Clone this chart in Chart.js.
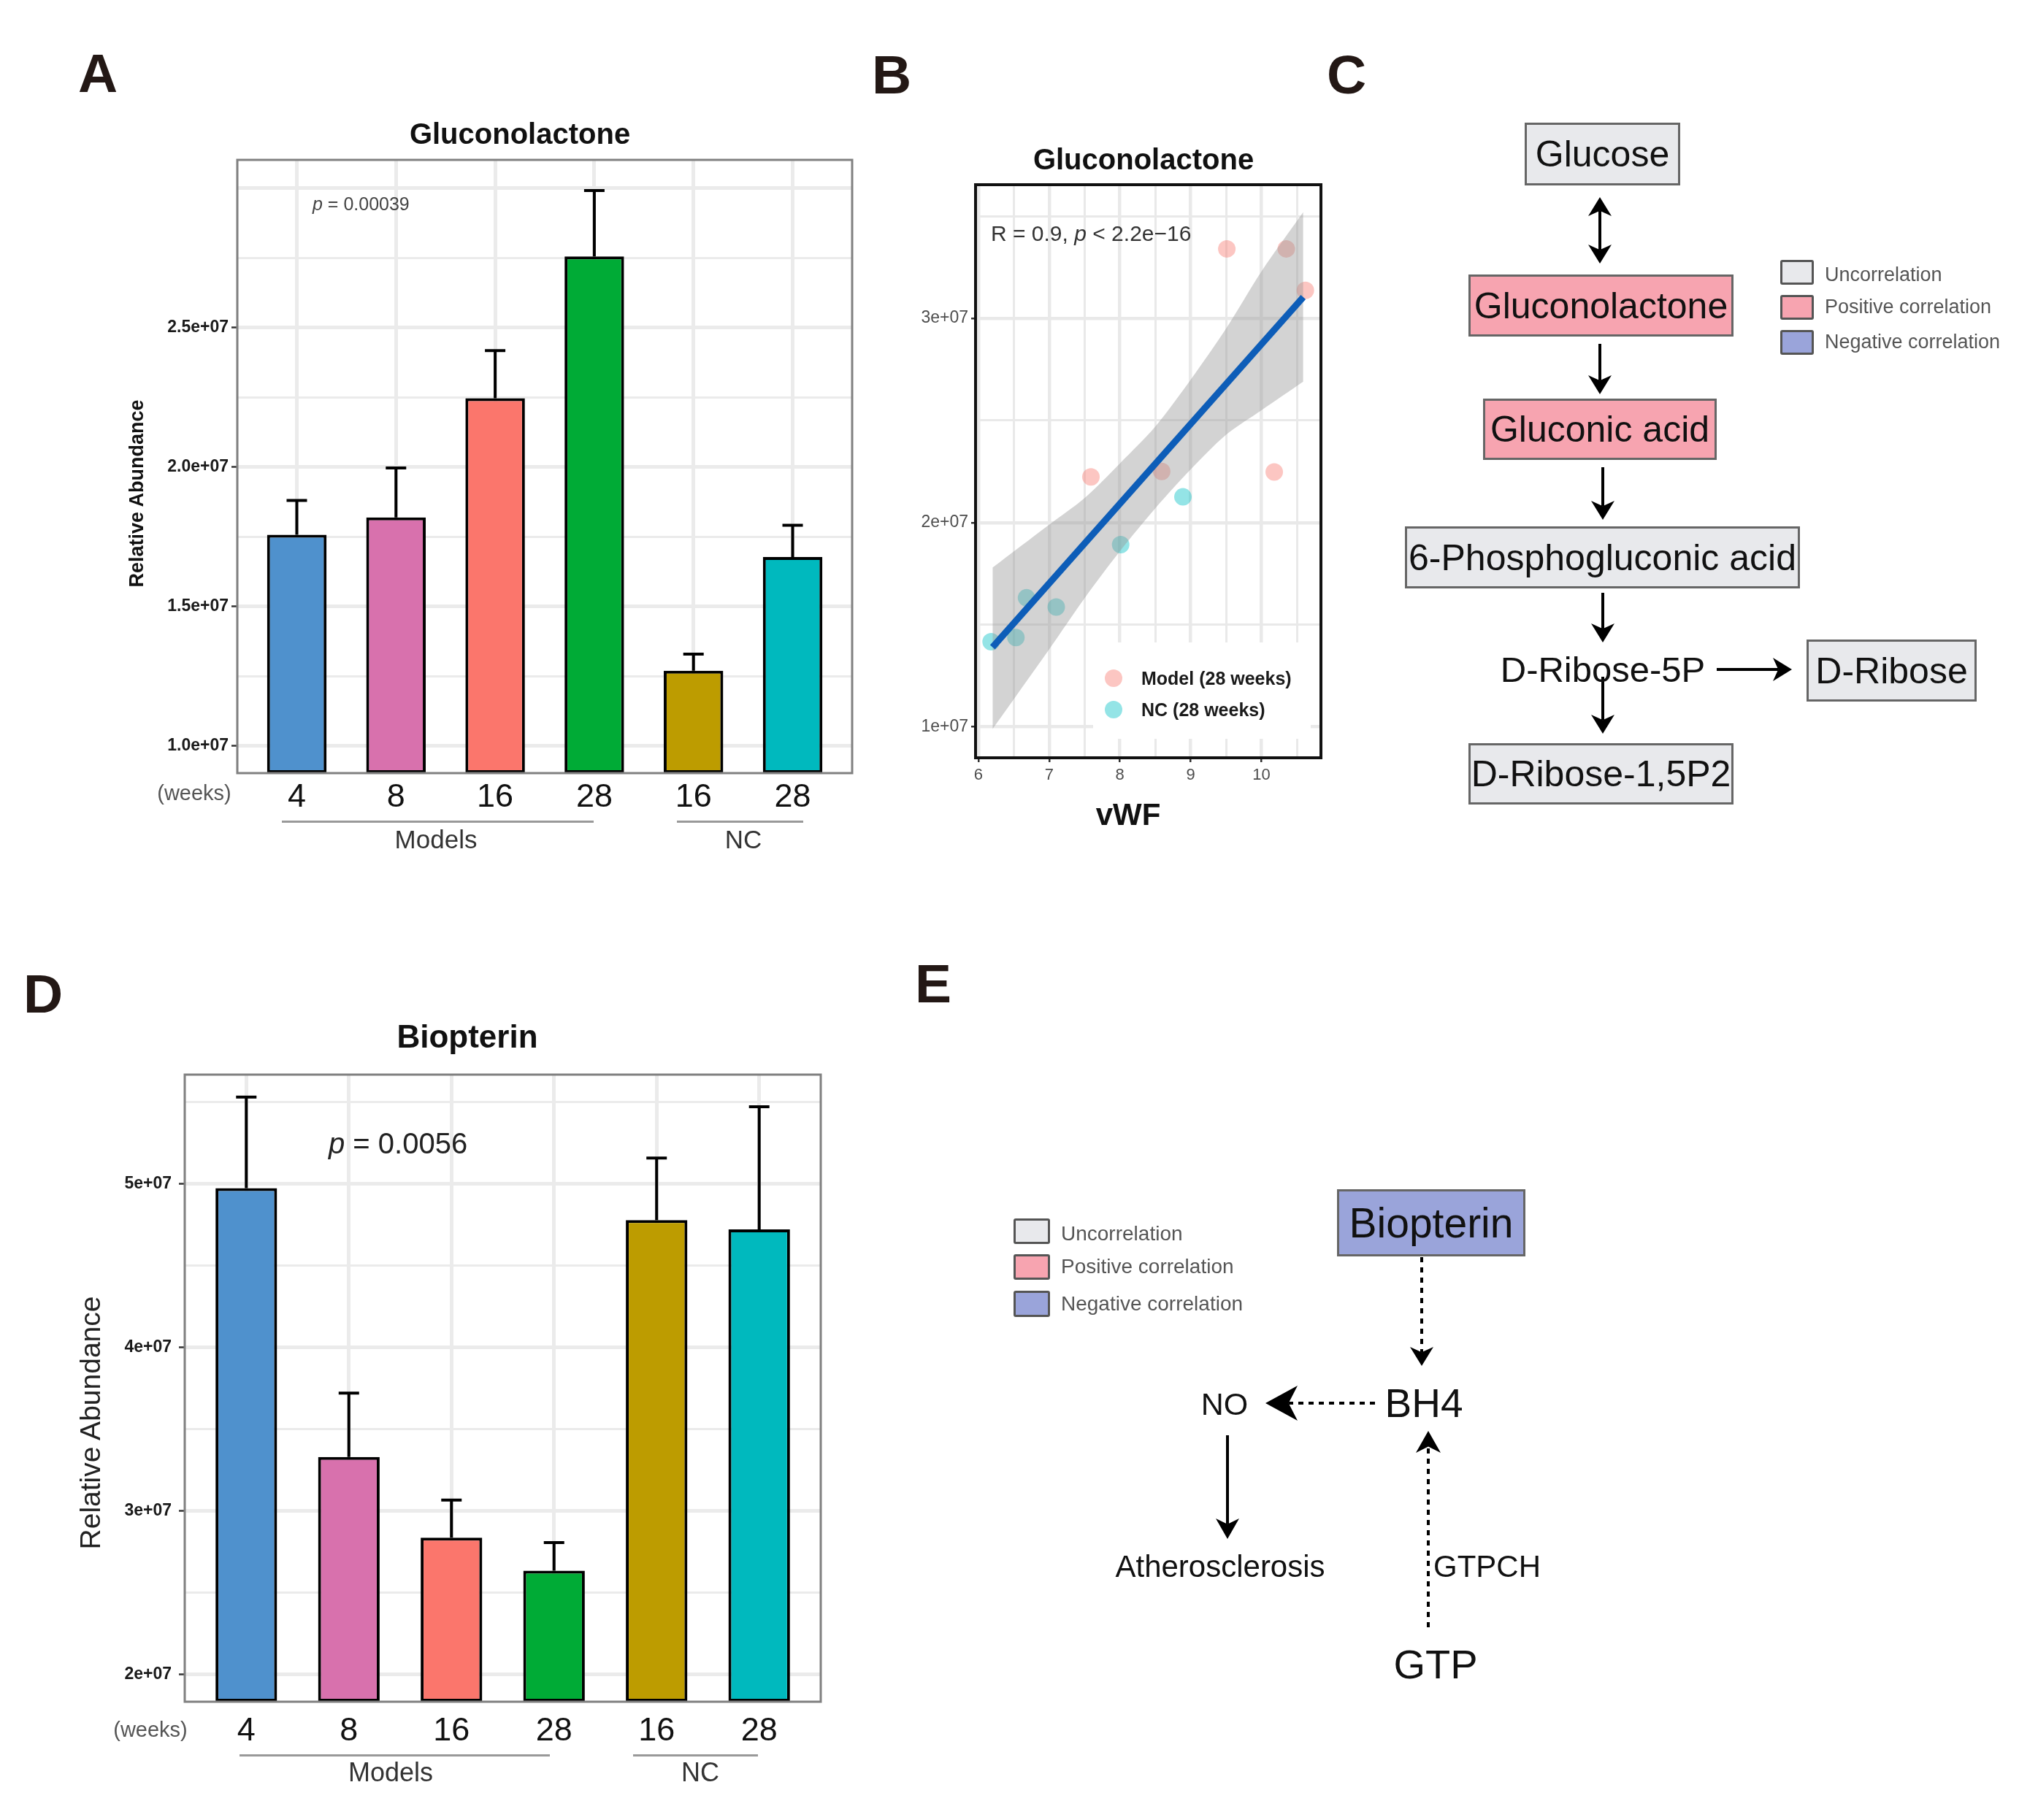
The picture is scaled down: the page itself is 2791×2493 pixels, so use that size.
<!DOCTYPE html>
<html>
<head>
<meta charset="utf-8">
<script src="https://cdn.jsdelivr.net/npm/chart.js@4.4.1/dist/chart.umd.min.js"></script>
<style>
  html, body { margin: 0; padding: 0; background: #fff; }
  body { width: 2791px; height: 2493px; position: relative; overflow: hidden;
         font-family: "Liberation Sans", Arial, Helvetica, sans-serif; color: #111; }
  canvas { position: absolute; }
  .txt { position: absolute; white-space: nowrap; line-height: 1; }
  .box { position: absolute; box-sizing: border-box; border: 3px solid #666; display: flex;
         align-items: center; justify-content: center; white-space: nowrap; font-size: 50px; line-height: 1; }
  .key { position: absolute; box-sizing: border-box; border: 3px solid #555; border-radius: 3px; }
  .rule { position: absolute; height: 0; border-top: 3px solid #999; }
  .legendB { position: absolute; background: #fff; }
  .dot { position: absolute; width: 24px; height: 24px; border-radius: 50%; }
  svg { position: absolute; left: 0; top: 0; }
</style>
</head>
<body>
<canvas id="chartA" width="961" height="920" style="left:214px;top:209px"></canvas>
<canvas id="chartB" width="585" height="847" style="left:1236px;top:241px"></canvas>
<canvas id="chartD" width="990" height="939" style="left:142px;top:1462px"></canvas>
<div class="legendB" style="left:1497px;top:880px;width:298px;height:132px"></div>
<svg id="arrows" width="2791" height="2493"></svg>

<script>
// Gluconolactone / Biopterin figure: bar charts (A, D), vWF scatter (B), pathway sketches (C, E)

// ---- data ----
const weekLabels = ['4', '8', '16', '28', '16', '28'];
const catPos = [1, 2, 3, 4, 5, 6];

const glucMean = [1.758e7, 1.820e7, 2.247e7, 2.756e7, 1.270e7, 1.678e7];
const glucErrTop = [1.881e7, 1.997e7, 2.418e7, 2.992e7, 1.330e7, 1.792e7];
const glucGrid = [1.0e7, 1.25e7, 1.5e7, 1.75e7, 2.0e7, 2.25e7, 2.5e7, 2.75e7, 3.0e7];
const glucMajor = [1.0e7, 1.5e7, 2.0e7, 2.5e7, 3.0e7];
const glucLabels = [1.0e7, 1.5e7, 2.0e7, 2.5e7];

const biopMean = [4.974e7, 3.33e7, 2.836e7, 2.634e7, 4.779e7, 4.722e7];
const biopErrTop = [5.532e7, 3.72e7, 3.066e7, 2.806e7, 5.159e7, 5.472e7];
const biopGrid = [2.0e7, 2.5e7, 3.0e7, 3.5e7, 4.0e7, 4.5e7, 5.0e7, 5.5e7];
const biopLabels = [2.0e7, 3.0e7, 4.0e7, 5.0e7];

const modelVWF = [9.51, 10.35, 10.62, 7.59, 8.59, 10.18];
const modelGluc = [3.34e7, 3.34e7, 3.137e7, 2.224e7, 2.251e7, 2.248e7];
const ncVWF = [8.89, 8.01, 6.68, 7.10, 6.53, 6.18];
const ncGluc = [2.126e7, 1.892e7, 1.632e7, 1.587e7, 1.438e7, 1.417e7];
const fitVWF = [6.2, 10.59];
const fitGluc = [1.39e7, 3.104e7];
const bandVWF = [6.2, 7.0, 7.5, 8.0, 8.5, 9.0, 9.5, 10.0, 10.59];
const bandLow = [0.99e7, 1.38e7, 1.63e7, 1.86e7, 2.07e7, 2.26e7, 2.43e7, 2.55e7, 2.69e7];
const bandHigh = [1.78e7, 1.99e7, 2.12e7, 2.29e7, 2.47e7, 2.70e7, 2.95e7, 3.23e7, 3.52e7];
const vwfGrid = [6, 6.5, 7, 7.5, 8, 8.5, 9, 9.5, 10, 10.5];
const vwfTicks = [6, 7, 8, 9, 10];
const scatGrid = [1.0e7, 1.5e7, 2.0e7, 2.5e7, 3.0e7, 3.5e7];
const scatTicks = [1.0e7, 2.0e7, 3.0e7];

const barColors = ['#4f91cd', '#d871ad', '#fb766c', '#00ab36', '#bd9c00', '#00b9be'];

const FONT = '"Liberation Sans", Arial, Helvetica, sans-serif';
Chart.defaults.font.family = FONT;

function near(a, b) { return Math.abs(a - b) <= Math.abs(b) * 1e-9 + 1e-9; }
function isIn(v, list) { return list.some(t => near(v, t)); }
function tickVal(ctx) { return ctx.tick ? ctx.tick.value : NaN; }
function pts(xs, ys) { return xs.map((x, i) => ({ x, y: ys[i] })); }
// fixed axis sizes, no automatic label padding, so the plot area lands where the panel is
function fixW(w) { return s => { s.width = w; s.paddingTop = 0; s.paddingBottom = 0; }; }
function fixH(h) { return s => { s.height = h; s.paddingLeft = 0; s.paddingRight = 0; }; }

function errorBars(means, tops) {
  return {
    id: 'errorBars',
    afterDatasetsDraw(chart) {
      const { ctx, scales: { x, y } } = chart;
      ctx.save();
      ctx.strokeStyle = '#000';
      ctx.lineWidth = 4;
      tops.forEach((t, i) => {
        const px = x.getPixelForValue(catPos[i]);
        const y0 = y.getPixelForValue(means[i]);
        const y1 = y.getPixelForValue(t);
        ctx.beginPath();
        ctx.moveTo(px, y0); ctx.lineTo(px, y1);
        ctx.moveTo(px - 14, y1); ctx.lineTo(px + 14, y1);
        ctx.stroke();
      });
      ctx.restore();
    }
  };
}

function panelBorder(color, width) {
  return {
    id: 'panelBorder',
    afterDraw(chart) {
      const { ctx, chartArea: a } = chart;
      ctx.save();
      ctx.strokeStyle = color;
      ctx.lineWidth = width;
      ctx.strokeRect(a.left, a.top, a.right - a.left, a.bottom - a.top);
      ctx.restore();
    }
  };
}

function makeBars(id, means, tops, c) {
  return new Chart(document.getElementById(id), {
    type: 'bar',
    data: {
      datasets: [{
        data: pts(catPos, means),
        backgroundColor: barColors,
        borderColor: '#000',
        borderWidth: 4,
        borderSkipped: false,
        categoryPercentage: 1,
        barPercentage: 0.6,
        base: c.yMin,
        clip: 3
      }]
    },
    options: {
      responsive: false, animation: false, devicePixelRatio: 1, events: [],
      layout: { padding: { top: 10, right: 8, left: 0, bottom: 0 } },
      plugins: { legend: { display: false }, tooltip: { enabled: false } },
      scales: {
        x: {
          type: 'linear', min: 0.4, max: 6.6, offset: false,
          afterBuildTicks: s => { s.ticks = catPos.map(v => ({ value: v })); },
          afterFit: fixH(c.xAxisH),
          ticks: { autoSkip: false, maxRotation: 0, padding: c.xPad, color: '#111', font: { size: 45 },
                   callback: v => weekLabels[v - 1] },
          grid: { offset: false, drawTicks: false, color: '#ebebeb', lineWidth: 5 },
          border: { display: false }
        },
        y: {
          type: 'linear', min: c.yMin, max: c.yMax, beginAtZero: false,
          afterBuildTicks: s => { s.ticks = c.yGrid.map(v => ({ value: v })); },
          afterFit: fixW(c.yAxisW),
          ticks: { autoSkip: false, padding: c.yPad, color: '#1a1a1a', font: { size: 23, weight: 'bold' },
                   callback: v => isIn(v, c.yLabels) ? c.fmt(v) : '' },
          grid: {
            color: '#ebebeb',
            lineWidth: ctx => isIn(tickVal(ctx), c.yMajor) ? 5 : 3,
            tickLength: 8, tickWidth: 2.5,
            tickColor: ctx => isIn(tickVal(ctx), c.yLabels) ? '#333' : 'rgba(0,0,0,0)'
          },
          border: { display: false }
        }
      }
    },
    plugins: [errorBars(means, tops), panelBorder('#808080', 3)]
  });
}

makeBars('chartA', glucMean, glucErrTop, {
  yMin: 0.903e7, yMax: 3.102e7, yGrid: glucGrid, yMajor: glucMajor, yLabels: glucLabels,
  fmt: v => (v / 1e7).toFixed(1) + 'e+07', yAxisW: 111, xAxisH: 70, xPad: 7, yPad: 4
});

makeBars('chartD', biopMean, biopErrTop, {
  yMin: 1.832e7, yMax: 5.669e7, yGrid: biopGrid, yMajor: biopLabels, yLabels: biopLabels,
  fmt: v => (v / 1e7) + 'e+07', yAxisW: 111, xAxisH: 70, xPad: 14, yPad: 10
});

new Chart(document.getElementById('chartB'), {
  type: 'scatter',
  data: {
    datasets: [
      { data: pts(modelVWF, modelGluc), backgroundColor: 'rgba(248,118,109,0.42)', pointRadius: 12, pointBorderWidth: 0, borderWidth: 0, order: 5 },
      { data: pts(ncVWF, ncGluc), backgroundColor: 'rgba(0,191,196,0.42)', pointRadius: 12, pointBorderWidth: 0, borderWidth: 0, order: 5 },
      { data: pts(bandVWF, bandLow), showLine: true, borderColor: 'rgba(0,0,0,0)', borderWidth: 0, pointRadius: 0, tension: 0.3, fill: false, order: 3 },
      { data: pts(bandVWF, bandHigh), showLine: true, borderColor: 'rgba(0,0,0,0)', borderWidth: 0, pointRadius: 0, tension: 0.3,
        fill: '-1', backgroundColor: 'rgba(150,150,150,0.42)', order: 3 },
      { data: pts(fitVWF, fitGluc), showLine: true, borderColor: '#0d5db8', borderWidth: 9, pointRadius: 0, tension: 0, order: 1 }
    ]
  },
  options: {
    responsive: false, animation: false, devicePixelRatio: 1, events: [],
    layout: { padding: { top: 10, right: 8, left: 0, bottom: 0 } },
    plugins: { legend: { display: false }, tooltip: { enabled: false } },
    scales: {
      x: {
        type: 'linear', min: 5.96, max: 10.84,
        afterBuildTicks: s => { s.ticks = vwfGrid.map(v => ({ value: v })); },
        afterFit: fixH(50),
        ticks: { autoSkip: false, maxRotation: 0, padding: 5, color: '#4d4d4d', font: { size: 22 },
                 callback: v => isIn(v, vwfTicks) ? String(v) : '' },
        grid: {
          color: '#e9e9e9',
          lineWidth: ctx => isIn(tickVal(ctx), vwfTicks) ? 4.5 : 3,
          tickLength: 6, tickWidth: 2.5,
          tickColor: ctx => isIn(tickVal(ctx), vwfTicks) ? '#333' : 'rgba(0,0,0,0)'
        },
        border: { display: false }
      },
      y: {
        type: 'linear', min: 0.849e7, max: 3.654e7,
        afterBuildTicks: s => { s.ticks = scatGrid.map(v => ({ value: v })); },
        afterFit: fixW(100),
        ticks: { autoSkip: false, padding: 4, color: '#4d4d4d', font: { size: 23 },
                 callback: v => isIn(v, scatTicks) ? (v / 1e7) + 'e+07' : '' },
        grid: {
          color: '#e9e9e9',
          lineWidth: ctx => isIn(tickVal(ctx), scatTicks) ? 4.5 : 3,
          tickLength: 6, tickWidth: 2.5,
          tickColor: ctx => isIn(tickVal(ctx), scatTicks) ? '#333' : 'rgba(0,0,0,0)'
        },
        border: { display: false }
      }
    }
  },
  plugins: [panelBorder('#111', 4)]
});

// ---- text and diagram elements ----
function txt(html, x, y, size, o = {}) {
  const d = document.createElement('div');
  d.className = 'txt';
  d.innerHTML = html;
  d.style.left = x + 'px';
  d.style.top = y + 'px';
  d.style.fontSize = size + 'px';
  if (o.bold) d.style.fontWeight = 'bold';
  if (o.color) d.style.color = o.color;
  const ax = o.left ? '0' : '-50%';
  d.style.transform = 'translate(' + ax + ',-50%)' + (o.rot ? ' rotate(-90deg)' : '');
  document.body.appendChild(d);
  return d;
}

function box(label, x1, y1, x2, y2, fill, size) {
  const d = document.createElement('div');
  d.className = 'box';
  d.textContent = label;
  Object.assign(d.style, { left: x1 + 'px', top: y1 + 'px', width: (x2 - x1) + 'px', height: (y2 - y1) + 'px', background: fill });
  if (size) d.style.fontSize = size + 'px';
  document.body.appendChild(d);
}

function key(x, y, w, h, fill) {
  const d = document.createElement('div');
  d.className = 'key';
  Object.assign(d.style, { left: x + 'px', top: y + 'px', width: w + 'px', height: h + 'px', background: fill });
  document.body.appendChild(d);
}

function rule(x1, x2, y) {
  const d = document.createElement('div');
  d.className = 'rule';
  Object.assign(d.style, { left: x1 + 'px', top: y + 'px', width: (x2 - x1) + 'px' });
  document.body.appendChild(d);
}

const GRAY = '#e8e9ec', PINK = '#f7a4b0', BLUE = '#9aa4da';

// panel letters
const LETTER = '#231815';
txt('A', 134, 100, 75, { bold: true, color: LETTER });
txt('B', 1221, 102, 75, { bold: true, color: LETTER });
txt('C', 1844, 102, 75, { bold: true, color: LETTER });
txt('D', 59, 1361, 75, { bold: true, color: LETTER });
txt('E', 1278, 1347, 75, { bold: true, color: LETTER });

// panel A
txt('Gluconolactone', 712, 183, 40, { bold: true });
txt('Relative Abundance', 187, 676, 27, { bold: true, rot: true });
txt('<i>p</i> = 0.00039', 428, 279, 25, { left: true, color: '#444' });
txt('(weeks)', 266, 1086, 29, { color: '#555' });
rule(386, 813, 1124);
rule(927, 1100, 1124);
txt('Models', 597, 1149, 35, { color: '#333' });
txt('NC', 1018, 1149, 35, { color: '#333' });

// panel B
txt('Gluconolactone', 1566, 218, 40, { bold: true });
txt('R = 0.9, <i>p</i> &lt; 2.2e\u221216', 1357, 320, 30, { left: true, color: '#333' });
txt('vWF', 1545, 1116, 42, { bold: true });
[['rgba(248,118,109,0.42)', 929, 'Model (28 weeks)'], ['rgba(0,191,196,0.42)', 972, 'NC (28 weeks)']].forEach(([c, y, t]) => {
  const d = document.createElement('div');
  d.className = 'dot';
  Object.assign(d.style, { left: (1525 - 12) + 'px', top: (y - 12) + 'px', background: c });
  document.body.appendChild(d);
  txt(t, 1563, y, 25, { left: true, bold: true, color: '#1a1a1a' });
});

// panel C
box('Glucose', 2088, 168, 2301, 254, GRAY);
box('Gluconolactone', 2011, 376, 2374, 461, PINK);
box('Gluconic acid', 2031, 546, 2351, 630, PINK);
box('6-Phosphogluconic acid', 1924, 721, 2465, 806, GRAY);
txt('D-Ribose-5P', 2195, 917, 49);
box('D-Ribose', 2474, 876, 2707, 961, GRAY);
box('D-Ribose-1,5P2', 2011, 1018, 2374, 1102, GRAY);
key(2438, 356, 46, 34, GRAY);
key(2438, 404, 46, 34, PINK);
key(2438, 452, 46, 34, BLUE);
txt('Uncorrelation', 2499, 376, 27, { left: true, color: '#555' });
txt('Positive correlation', 2499, 420, 27, { left: true, color: '#555' });
txt('Negative correlation', 2499, 468, 27, { left: true, color: '#555' });

// panel D
txt('Biopterin', 640, 1420, 44, { bold: true });
txt('Relative Abundance', 123, 1949, 39, { rot: true, color: '#222' });
txt('<i>p</i> = 0.0056', 450, 1566, 40, { left: true, color: '#222' });
txt('(weeks)', 206, 2369, 29, { color: '#555' });
rule(328, 753, 2403);
rule(867, 1038, 2403);
txt('Models', 535, 2428, 36, { color: '#333' });
txt('NC', 959, 2428, 36, { color: '#333' });

// panel E
key(1388, 1669, 50, 35, GRAY);
key(1388, 1718, 50, 35, PINK);
key(1388, 1768, 50, 36, BLUE);
txt('Uncorrelation', 1453, 1690, 28, { left: true, color: '#555' });
txt('Positive correlation', 1453, 1735, 28, { left: true, color: '#555' });
txt('Negative correlation', 1453, 1786, 28, { left: true, color: '#555' });
box('Biopterin', 1831, 1629, 2089, 1721, BLUE, 57);
txt('BH4', 1950, 1922, 55);
txt('NO', 1677, 1923, 43);
txt('Atherosclerosis', 1671, 2146, 42);
txt('GTPCH', 1963, 2146, 42, { left: true });
txt('GTP', 1966, 2280, 56);

// arrows
const svg = document.getElementById('arrows');
const NS = 'http://www.w3.org/2000/svg';
function head(x, y, ux, uy, len, half) {
  const nx = -uy, ny = ux;
  const p = [
    [x, y],
    [x - ux * len + nx * half, y - uy * len + ny * half],
    [x - ux * len * 0.72, y - uy * len * 0.72],
    [x - ux * len - nx * half, y - uy * len - ny * half]
  ];
  const el = document.createElementNS(NS, 'polygon');
  el.setAttribute('points', p.map(q => q.join(',')).join(' '));
  el.setAttribute('fill', '#000');
  svg.appendChild(el);
}
function arrow(x1, y1, x2, y2, o = {}) {
  const len = o.len || 26, half = o.half || 15;
  const dx = x2 - x1, dy = y2 - y1, L = Math.hypot(dx, dy), ux = dx / L, uy = dy / L;
  let sx = x1, sy = y1;
  if (o.both) { head(x1, y1, -ux, -uy, len, half); sx = x1 + ux * len * 0.72; sy = y1 + uy * len * 0.72; }
  const ln = document.createElementNS(NS, 'line');
  ln.setAttribute('x1', sx); ln.setAttribute('y1', sy);
  ln.setAttribute('x2', x2 - ux * len * 0.72); ln.setAttribute('y2', y2 - uy * len * 0.72);
  ln.setAttribute('stroke', '#000');
  ln.setAttribute('stroke-width', 4);
  if (o.dash) ln.setAttribute('stroke-dasharray', '7 7');
  svg.appendChild(ln);
  head(x2, y2, ux, uy, len, half);
}

arrow(2191, 270, 2191, 361, { both: true, len: 26, half: 16 });
arrow(2191, 471, 2191, 540, { len: 26, half: 16 });
arrow(2195, 640, 2195, 712, { len: 26, half: 16 });
arrow(2195, 812, 2195, 880, { len: 26, half: 16 });
arrow(2351, 917, 2454, 917, { len: 26, half: 16 });
arrow(2195, 927, 2195, 1005, { len: 26, half: 16 });

arrow(1947, 1722, 1947, 1871, { dash: true, len: 26, half: 16 });
arrow(1883, 1922, 1733, 1922, { dash: true, len: 44, half: 24 });
arrow(1681, 1966, 1681, 2108, { len: 28, half: 16 });
arrow(1956, 2229, 1956, 1960, { dash: true, len: 30, half: 17 });
</script>
</body>
</html>
